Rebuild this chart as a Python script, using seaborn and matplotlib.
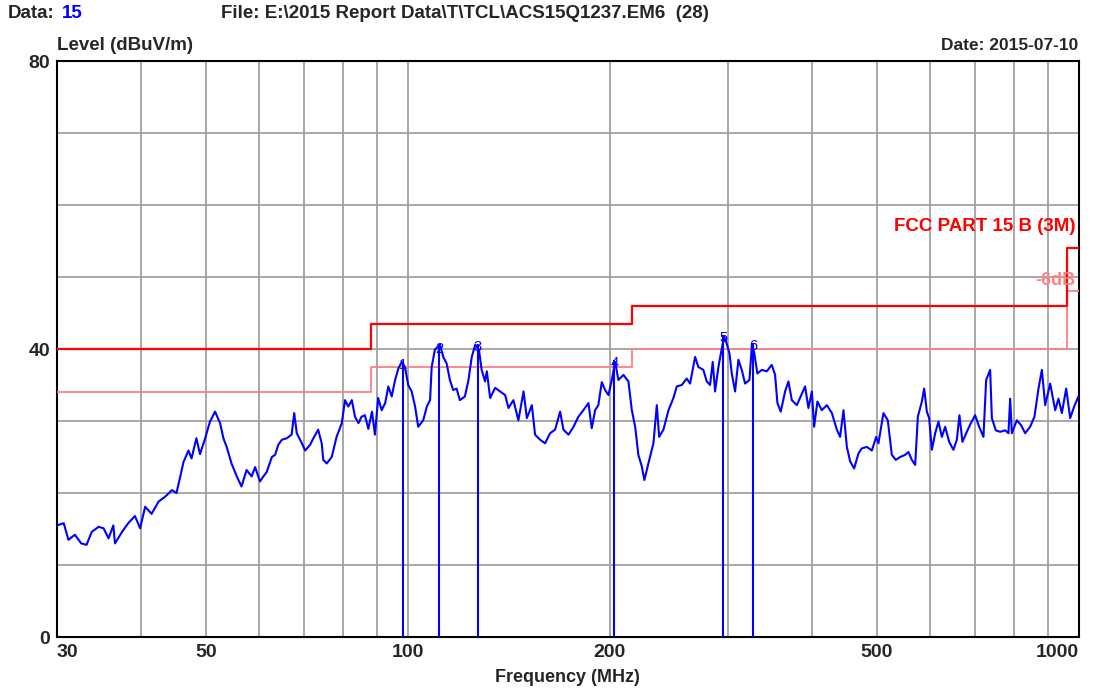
import pandas as pd
import matplotlib
matplotlib.use("Agg")
import matplotlib.pyplot as plt
import seaborn as sns
from matplotlib.ticker import NullFormatter

freq_mhz = [
    30.0, 30.7, 31.2, 31.9, 32.6, 33.2, 33.8, 34.6, 35.2, 35.8, 36.4, 36.6, 37.5, 38.3,
    39.2, 39.9, 40.6, 41.5, 42.5, 43.5, 44.5, 45.2, 45.8, 46.3, 47.1, 47.6, 48.4, 49.0,
    49.8, 50.7, 51.6, 52.5, 53.1, 53.7, 54.6, 55.6, 56.5, 57.5, 58.5, 59.2, 60.2, 60.9,
    61.6, 62.7, 63.4, 64.1, 64.9, 66.0, 67.1, 67.7, 68.3, 69.5, 70.3, 71.5, 72.3, 73.5,
    74.4, 74.8, 75.7, 77.0, 78.3, 79.7, 80.6, 81.5, 82.5, 83.4, 84.4, 85.3, 86.3, 87.3,
    88.4, 89.3, 90.3, 91.4, 92.5, 93.5, 94.6, 95.7, 96.8, 97.9, 99.0, 100.1, 101.3, 102.5,
    103.6, 105.4, 106.7, 107.9, 108.5, 109.7, 111.6, 112.9, 114.2, 115.5, 116.8, 118.2,
    119.5, 121.6,
    123.1, 124.5, 126.0, 127.6, 128.8, 130.3, 131.1, 132.6, 134.9, 137.2, 139.6, 141.2,
    143.6, 146.1, 148.7, 150.4, 153.0, 154.7, 157.4, 160.1, 162.9, 165.7, 168.6, 170.5,
    173.5, 176.5, 179.5, 182.6, 185.8, 187.9, 190.1, 192.2, 194.5, 196.7, 199.0, 201.3,
    203.6, 205.9, 209.5, 213.1, 215.6, 218.1, 220.5, 223.1, 225.1, 228.2, 232.2, 234.9,
    236.8, 240.3, 244.5, 248.7,
    251.6, 255.9, 260.3, 263.3, 267.9, 270.9, 275.6, 278.8, 282.0, 284.6, 286.9, 290.2,
    293.6, 296.0, 298.7, 301.4, 303.8, 307.3, 310.8, 314.4, 318.0, 322.8, 325.4, 328.0,
    331.7, 336.8, 342.6, 348.5, 352.5, 355.3, 359.4, 364.8, 369.0, 373.3, 379.8, 386.4,
    390.7, 395.2, 399.9, 403.0, 407.6, 413.8, 421.0, 428.3, 435.7, 440.6, 445.7, 450.9,
    456.0, 462.3, 469.2, 474.7, 483.0, 491.3, 498.6, 502.5,
    508.4, 511.2, 518.9, 526.1, 533.4, 541.3, 550.7, 557.0, 563.5, 570.0, 575.3, 583.2,
    587.9, 593.3, 598.0, 603.6, 610.5, 617.4, 624.7, 631.8, 640.5, 650.0, 657.6, 663.5,
    670.4, 680.6, 690.0, 700.2, 709.9, 720.5, 727.2, 737.2, 741.6, 751.8, 763.0, 776.2,
    785.0, 789.6, 794.2, 807.9, 820.0, 831.3, 845.7, 858.3, 870.2, 880.4, 890.4, 905.8,
    921.5, 932.0, 942.9, 957.0, 970.2, 983.5, 998.0,
]
level_dbuv = [
    15.5, 15.8, 13.5, 14.2, 13.0, 12.8, 14.6, 15.3, 15.1, 13.7, 15.5, 13.0, 14.6, 15.8,
    16.8, 15.1, 18.1, 17.1, 18.8, 19.5, 20.4, 20.0, 22.3, 24.3, 25.9, 24.8, 27.6, 25.4,
    27.4, 29.9, 31.3, 29.7, 27.6, 26.4, 24.1, 22.3, 20.9, 23.2, 22.3, 23.6, 21.6, 22.3,
    22.9, 25.0, 25.3, 26.7, 27.4, 27.6, 28.1, 31.1, 28.3, 26.9, 25.9, 26.7, 27.6, 28.8,
    26.9, 24.6, 24.1, 25.0, 27.8, 29.7, 32.9, 32.0, 32.9, 30.6, 29.7, 30.6, 30.8, 28.9,
    31.3, 28.1, 33.2, 31.5, 32.5, 34.8, 33.4, 35.7, 37.3, 38.2, 37.5, 35.0, 34.1, 32.0,
    29.2, 30.1, 32.0, 32.9, 37.5, 39.9, 40.6, 38.9, 38.0, 35.7, 34.3, 34.5,
    32.9, 33.4,
    35.7, 38.9, 40.6, 39.9, 37.1, 35.5, 36.9, 33.2, 34.6, 34.1, 33.6, 31.8,
    32.9, 30.1, 34.1, 30.4, 32.2, 28.1, 27.4, 26.9, 28.3, 28.8, 31.3, 28.8,
    28.1, 29.2, 30.6, 31.5, 32.5, 29.0, 31.5, 32.2, 35.4, 34.3, 33.6, 35.7,
    38.2, 35.7, 36.4, 35.5, 31.5, 29.2, 25.3, 23.7, 21.8, 24.1, 26.9, 32.2,
    27.8, 28.8, 31.5, 33.2,
    34.8, 35.0, 35.9, 35.2, 38.9, 37.5, 37.1, 35.5, 35.0, 38.2, 34.1, 37.5,
    40.1, 41.7, 40.7, 39.4, 36.6, 34.1, 38.5, 37.1, 35.2, 35.7, 40.3, 39.6,
    36.6, 37.1, 36.9, 37.8, 36.4, 32.5, 31.3, 34.1, 35.5, 32.9, 32.2, 33.8,
    34.8, 31.8, 34.1, 29.2, 32.7, 31.5, 32.2, 31.1, 28.8, 27.8, 31.5, 26.4,
    24.4, 23.4, 25.5, 26.2, 26.4, 25.9, 27.8, 26.9,
    29.7, 31.1, 30.1, 25.3, 24.6, 25.0, 25.3, 25.7, 24.6, 23.9, 30.6, 32.7,
    34.5, 31.3, 30.4, 26.0, 28.3, 29.9, 27.8, 29.2, 27.1, 26.0, 27.4, 30.8,
    27.1, 28.5, 29.7, 30.8, 29.2, 27.8, 35.7, 37.1, 30.4, 28.7, 28.5, 28.7,
    28.3, 33.1, 28.3, 30.1, 29.4, 28.3, 29.2, 30.6, 34.5, 37.1, 32.2, 35.2,
    31.5, 33.1, 31.1, 34.5, 30.4, 32.0, 33.4,
]

# FCC Part 15 B (3 m) limit and the -6 dB margin line
limit_freq = [30, 88, 216, 960, 1000]
limit_level = [40, 43.5, 46, 54, 54]
margin_level = [34, 37.5, 40, 48, 48]

# peak markers
marker_freq = [98.4, 111.3, 127.1, 203.1, 295.2, 326.6]
marker_level = [38.2, 40.4, 40.7, 38.5, 41.9, 40.8]
marker_label = ["1", "2", "3", "4", "5", "6"]

x_major = [30, 50, 100, 200, 500, 1000]
x_minor = [40, 60, 70, 80, 90, 300, 400, 600, 700, 800, 900]
y_major = [0, 40, 80]
y_minor = [10, 20, 30, 50, 60, 70]

sns.set_style("white")
plt.rcParams['font.family'] = ['Liberation Sans', 'DejaVu Sans']

W, H = 1100, 688
fig = plt.figure(figsize=(W / 100, H / 100), dpi=100)
ax = fig.add_axes([57 / W, 51 / H, 1022 / W, 576 / H])

trace = pd.DataFrame({"freq": freq_mhz, "level": level_dbuv})
limits = pd.DataFrame({"freq": limit_freq, "limit": limit_level, "margin": margin_level})

sns.lineplot(data=limits, x="freq", y="margin", ax=ax, color="#ff8080", lw=1.3,
             drawstyle="steps-post", sort=False, estimator=None, zorder=3)
sns.lineplot(data=limits, x="freq", y="limit", ax=ax, color="#ff0000", lw=1.6,
             drawstyle="steps-post", sort=False, estimator=None, zorder=3)
sns.lineplot(data=trace, x="freq", y="level", ax=ax, color="#0000ff", lw=1.5,
             sort=False, estimator=None, zorder=4)
ax.vlines(marker_freq, 0, marker_level, color="#0000ff", lw=1.5, zorder=4)
for f, lv, lab in zip(marker_freq, marker_level, marker_label):
    ax.text(f, lv - 0.4, lab, color="#0000ff", fontsize=10.5, ha="center", va="center", zorder=5)

ax.set_xscale("log")
ax.set_xlim(30, 1000)
ax.set_ylim(0, 80)
ax.set_xticks(x_major)
ax.set_xticklabels([str(v) for v in x_major])
ax.set_xticks(x_minor, minor=True)
ax.xaxis.set_minor_formatter(NullFormatter())
ax.set_yticks(y_major)
ax.set_yticks(y_minor, minor=True)
ax.grid(which="both", color="#a0a0a0", lw=1.3, zorder=0)
ax.set_axisbelow(True)
ax.tick_params(which="both", length=0, labelsize=14)
ax.tick_params(axis="x", pad=5)
ax.tick_params(axis="y", pad=5)
for t in ax.get_xticklabels() + ax.get_yticklabels():
    t.set_fontweight("bold")
xl = ax.get_xticklabels()
xl[0].set_ha("left")
xl[-1].set_ha("right")
ax.set_xlabel("")
ax.set_ylabel("")
for s in ax.spines.values():
    s.set_color("black")
    s.set_linewidth(1.5)

ax.text(988, 57, "FCC PART 15 B (3M)", color="#ff0000", fontsize=13.5, fontweight="bold",
        ha="right", va="center")
ax.text(988, 49.5, "-6dB", color="#ff8080", fontsize=13, fontweight="bold",
        ha="right", va="center")

fig.text(8 / W, 1 - 14 / H, "Data:", fontsize=13.5, fontweight="bold", va="center")
fig.text(62 / W, 1 - 14 / H, "15", fontsize=13.5, fontweight="bold", color="#0000ff", va="center")
fig.text(221 / W, 1 - 14 / H, "File: E:\\2015 Report Data\\T\\TCL\\ACS15Q1237.EM6  (28)",
         fontsize=13.5, fontweight="bold", va="center")
fig.text(57 / W, 1 - 45 / H, "Level (dBuV/m)", fontsize=13.5, fontweight="bold", va="center")
fig.text(1078 / W, 1 - 45 / H, "Date: 2015-07-10", fontsize=12.5, fontweight="bold",
         va="center", ha="right")
fig.text(567 / W, 1 - 677 / H, "Frequency (MHz)", fontsize=13, fontweight="bold",
         va="center", ha="center")

fig.savefig("out.png", dpi=100)
